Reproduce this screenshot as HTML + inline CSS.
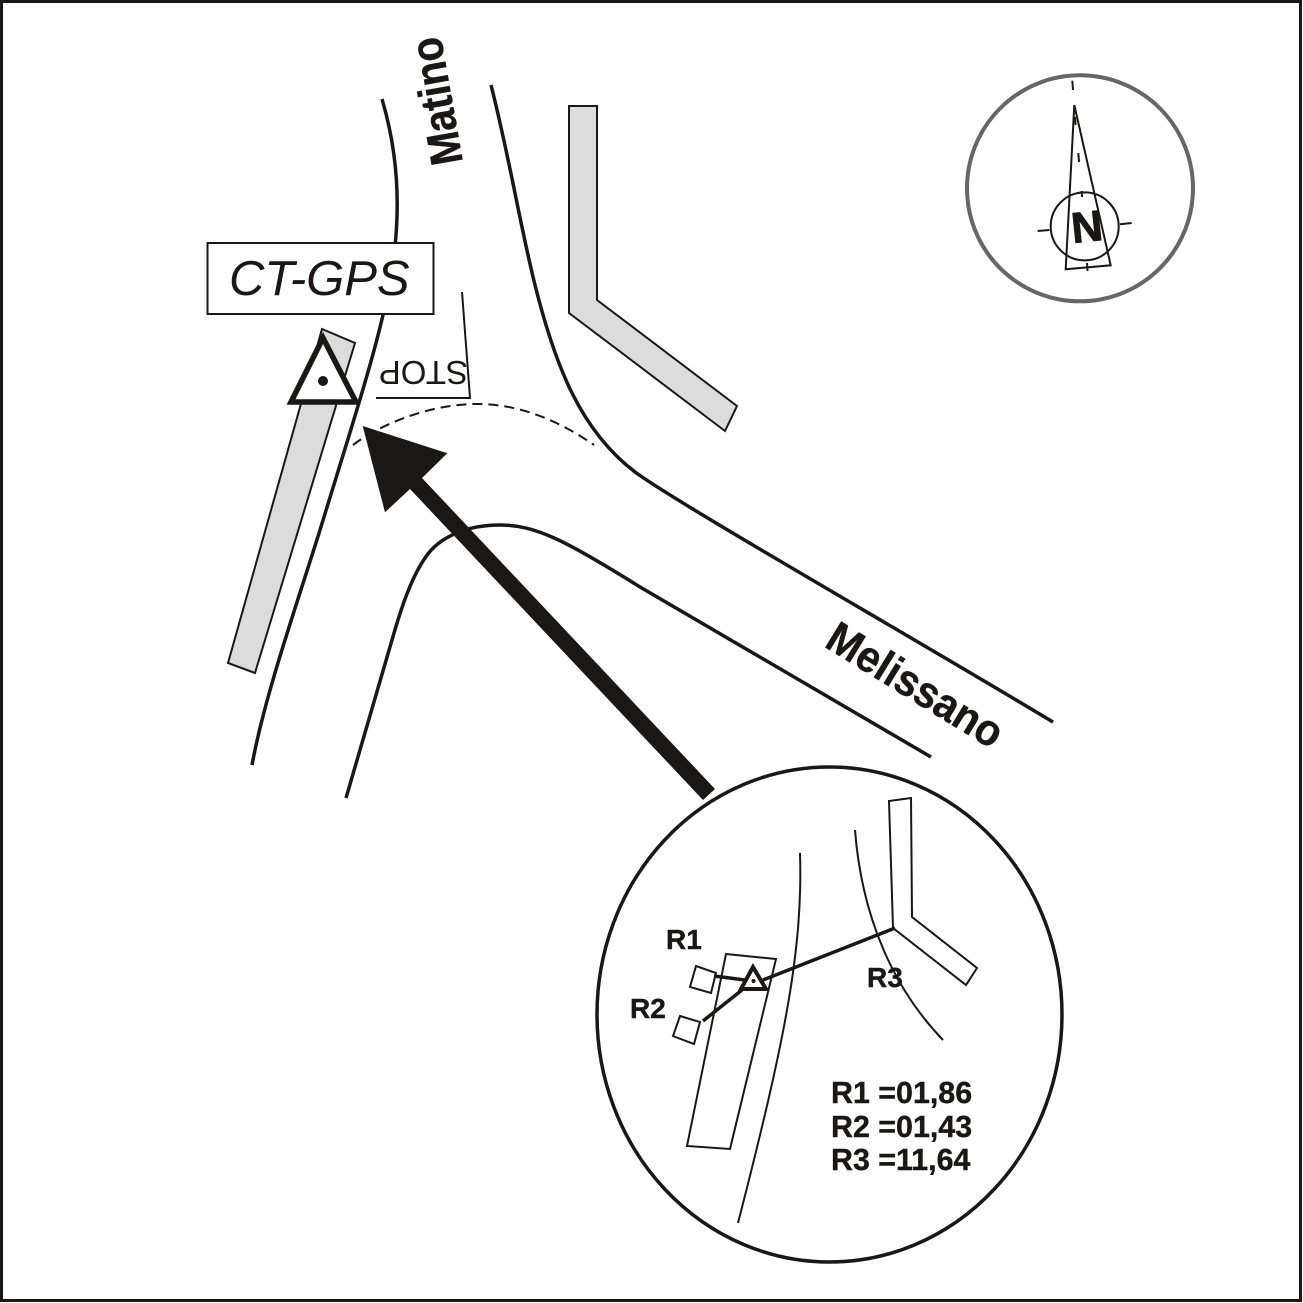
<!DOCTYPE html>
<html><head><meta charset="utf-8"><style>
html,body{margin:0;padding:0;background:#fff}
svg{display:block}
text{font-family:"Liberation Sans",sans-serif;fill:#1a1716}
.b{font-weight:bold;stroke:#1a1716;stroke-width:.4}
</style></head><body>
<svg width="1303" height="1303" viewBox="0 0 1303 1303" xmlns="http://www.w3.org/2000/svg">
<rect x="1.5" y="1.5" width="1299" height="1299" fill="#fff" stroke="#1a1716" stroke-width="3"/>
<g fill="none" stroke="#1a1716" stroke-linecap="butt">
<path d="M382 99C397 150 402 205 392 270C382 335 352 425 320 530C295 610 265 695 252 765" stroke-width="3.5"/>
<path d="M491 85C510 160 520 225 535 285C555 365 580 430 635 472C680 505 900 630 1053 722" stroke-width="3.5"/>
<path d="M346 798L392 640C400 612 410 580 425 558C440 535 470 525 500 525C535 525 565 540 640 587L931 757" stroke-width="3.5"/>
<path d="M353 445C375 428 425 404 477 404C525 404 565 425 594 445" stroke-width="2" stroke-dasharray="10 6"/>
</g>
<polygon points="569,106 597,106 597,300 737,406 725,431 569,313" fill="#dcdcdc" stroke="#1a1716" stroke-width="2"/>
<polygon points="322,329 355,343 255,673 228,663" fill="#dcdcdc" stroke="#1a1716" stroke-width="2"/>
<rect x="207.5" y="243" width="226" height="71" fill="#fff" stroke="#1a1716" stroke-width="2"/>
<text x="229" y="295" font-size="49" font-style="italic">CT-GPS</text>
<polygon points="323,338 291,402 356,402" fill="#fff" stroke="#1a1716" stroke-width="5.5"/>
<circle cx="323" cy="381" r="5" fill="#1a1716"/>
<path d="M462 292L470 398H376" fill="none" stroke="#1a1716" stroke-width="2"/>
<text transform="translate(468,361) rotate(180)" font-size="33">STOP</text>
<text class="b" transform="translate(463,162) rotate(-100) scale(1,1.14)" font-size="40">Matino</text>
<text class="b" transform="translate(823,646) rotate(31.5) scale(1,1.08)" font-size="41">Melissano</text>
<ellipse cx="829.5" cy="1014.5" rx="232.5" ry="247.5" fill="#fff" stroke="#1a1716" stroke-width="3.5"/>
<polygon points="362.7,426 447.3,453.3 422,478 715,789 703,800 410,489 385,512.3" fill="#1a1716"/>
<g fill="none" stroke="#1a1716" stroke-width="2">
<path d="M800 853C803 950 785 1040 738 1223"/>
<path d="M855 830C862 920 895 990 943 1040"/>
<polygon points="889,801 911,798 912,917 977,968 966,985 893,928"/>
<polygon points="726,954 776,959 730,1149 687,1146"/>
<polygon points="696,966 716,973 711,993 690,987"/>
<polygon points="680,1016 700,1022 694,1044 673,1036"/>
</g>
<g stroke="#1a1716" stroke-width="3.5" fill="none">
<line x1="714" y1="976" x2="745" y2="980"/>
<line x1="703" y1="1021" x2="742" y2="990"/>
<line x1="763" y1="980" x2="895" y2="928"/>
</g>
<polygon points="753,967 741,989 766,989" fill="#fff" stroke="#1a1716" stroke-width="4"/>
<circle cx="753.5" cy="981" r="2" fill="#1a1716"/>
<g font-size="28">
<text class="b" x="666" y="949">R1</text>
<text class="b" x="630" y="1018">R2</text>
<text class="b" x="867" y="987">R3</text>
</g>
<g font-size="30.4">
<text class="b" x="831" y="1103">R1 =01,86</text>
<text class="b" x="831" y="1137">R2 =01,43</text>
<text class="b" x="831" y="1170">R3 =11,64</text>
</g>
<circle cx="1080" cy="188.3" r="113" fill="#fff" stroke="#666" stroke-width="4"/>
<g fill="none" stroke="#1a1716" stroke-width="2">
<circle cx="1084.7" cy="226.4" r="34"/>
<polygon points="1074.3,105 1065.7,269.3 1110.7,265.3"/>
<line x1="1072.3" y1="80.7" x2="1073" y2="90"/>
<line x1="1075" y1="117" x2="1075.6" y2="125"/>
<line x1="1078.3" y1="153" x2="1079" y2="162"/>
<line x1="1081.7" y1="191" x2="1082" y2="197"/>
<line x1="1087" y1="263" x2="1087.5" y2="271"/>
<line x1="1037.7" y1="231" x2="1049.3" y2="230"/>
<line x1="1120" y1="224.3" x2="1131.7" y2="223"/>
</g>
<text class="b" transform="translate(1073,243) rotate(-6)" font-size="43" style="stroke-width:1">N</text>
</svg>
</body></html>
